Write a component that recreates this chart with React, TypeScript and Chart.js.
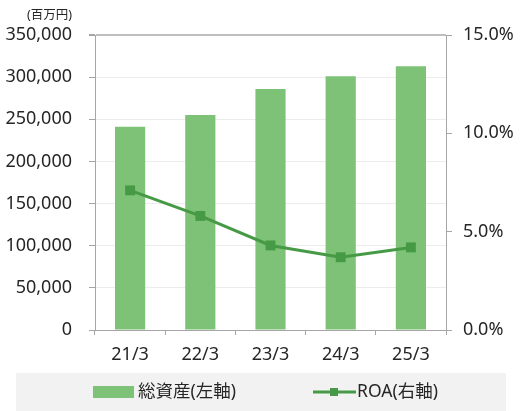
import React, { useEffect, useRef } from "react";
import { Chart, registerables } from "chart.js";

Chart.register(...registerables);

const categories = ["21/3", "22/3", "23/3", "24/3", "25/3"];
const totalAssets = [241000, 255000, 286000, 301000, 313000];
const roa = [7.1, 5.8, 4.3, 3.7, 4.2];
const leftTicks = [0, 50000, 100000, 150000, 200000, 250000, 300000, 350000];
const rightTicks = [0, 5, 10, 15];
const unitLabel = "(百万円)";
const barLabel = "総資産(左軸)";
const lineLabel = "ROA(右軸)";

const FONT = "'Noto Sans', 'Noto Sans CJK JP', sans-serif";
const BAR_COLOR = "#7dc276";
const LINE_COLOR = "#479a45";
const TEXT_COLOR = "#262626";

const extrasPlugin = {
  id: "extras",
  afterDraw(chart: any) {
    const ctx = chart.ctx;
    ctx.save();
    // unit label
    ctx.fillStyle = TEXT_COLOR;
    ctx.font = `12.5px ${FONT}`;
    ctx.textAlign = "left";
    ctx.textBaseline = "middle";
    ctx.fillText(unitLabel, 27, 15);

    // legend box
    ctx.fillStyle = "#f2f2f2";
    ctx.fillRect(16, 373, 490, 38);
    const cy = 392;
    ctx.fillStyle = BAR_COLOR;
    ctx.fillRect(93, 386, 41, 12);
    ctx.fillStyle = TEXT_COLOR;
    ctx.font = `17.5px ${FONT}`;
    ctx.textBaseline = "middle";
    ctx.fillText(barLabel, 138, cy);

    ctx.strokeStyle = LINE_COLOR;
    ctx.lineWidth = 3;
    ctx.beginPath();
    ctx.moveTo(313, cy);
    ctx.lineTo(356, cy);
    ctx.stroke();
    ctx.fillStyle = LINE_COLOR;
    ctx.fillRect(330, cy - 4, 8, 8);
    ctx.fillStyle = TEXT_COLOR;
    ctx.fillText(lineLabel, 357, cy);
    ctx.restore();
  },
};

export default function App() {
  const ref = useRef<HTMLCanvasElement | null>(null);
  useEffect(() => {
    if (!ref.current) return;
    const chart = new Chart(ref.current, {
      data: {
        labels: categories,
        datasets: [
          {
            type: "line" as const,
            label: lineLabel,
            data: roa,
            yAxisID: "y2",
            borderColor: LINE_COLOR,
            backgroundColor: LINE_COLOR,
            borderWidth: 3,
            pointStyle: "rect",
            pointRadius: 7,
            pointBorderWidth: 0,
            tension: 0,
            order: 0,
          },
          {
            type: "bar" as const,
            label: barLabel,
            data: totalAssets,
            yAxisID: "y",
            backgroundColor: BAR_COLOR,
            barPercentage: 0.43,
            categoryPercentage: 1,
            order: 1,
          },
        ],
      },
      options: {
        animation: false,
        responsive: false,
        devicePixelRatio: 1,
        layout: { padding: { top: 35, left: 0, right: 0, bottom: 0 } },
        plugins: { legend: { display: false }, tooltip: { enabled: false } },
        scales: {
          x: {
            offset: true,
            grid: {
              offset: true,
              drawOnChartArea: false,
              drawTicks: true,
              tickLength: 5,
              tickColor: "#a6a6a6",
            },
            border: { color: "#a6a6a6", width: 1 },
            ticks: {
              color: TEXT_COLOR,
              font: { family: FONT, size: 18 },
              padding: 9,
              maxRotation: 0,
            },
            afterFit(scale: any) {
              scale.height = 81;
            },
          },
          y: {
            position: "left",
            min: 0,
            max: 350000,
            afterBuildTicks(scale: any) {
              scale.ticks = leftTicks.map((v) => ({ value: v }));
            },
            grid: {
              color: (c: any) =>
                c.tick && c.tick.value === 350000 ? "#bfbfbf" : "#ececec",
              lineWidth: (c: any) => (c.tick && c.tick.value === 350000 ? 2 : 1),
              tickColor: "#a6a6a6",
              tickLength: 6,
            },
            border: { color: "#a6a6a6", width: 1 },
            ticks: {
              color: TEXT_COLOR,
              font: { family: FONT, size: 18 },
              padding: 17,
              callback: (v: any) => Number(v).toLocaleString("en-US"),
            },
            afterFit(scale: any) {
              scale.width = 95;
            },
          },
          y2: {
            position: "right",
            min: 0,
            max: 15,
            afterBuildTicks(scale: any) {
              scale.ticks = rightTicks.map((v) => ({ value: v }));
            },
            grid: {
              drawOnChartArea: false,
              tickColor: "#a6a6a6",
              tickLength: 6,
            },
            border: { color: "#a6a6a6", width: 1 },
            ticks: {
              color: TEXT_COLOR,
              font: { family: FONT, size: 18 },
              padding: 11,
              callback: (v: any) => Number(v).toFixed(1) + "%",
            },
            afterFit(scale: any) {
              scale.width = 83;
            },
          },
        },
      },
      plugins: [extrasPlugin],
    } as any);
    return () => chart.destroy();
  }, []);
  return (
    <div style={{ position: "absolute", left: 0, top: 0, width: 529, height: 411, background: "#fff" }}>
      <canvas ref={ref} width={529} height={411} style={{ width: 529, height: 411, display: "block" }} />
    </div>
  );
}
